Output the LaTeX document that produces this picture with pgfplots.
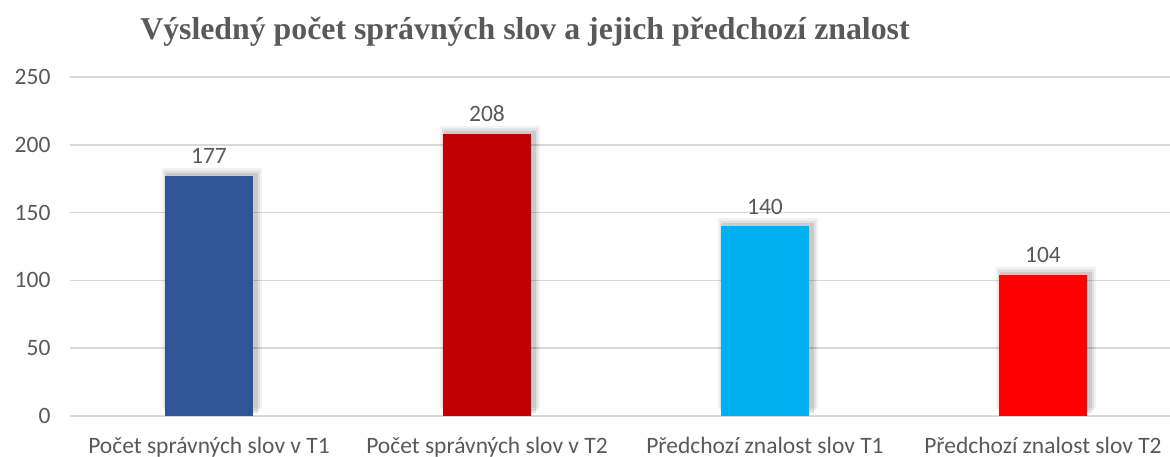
\documentclass[border=0pt]{standalone}
\usepackage{pgfplots}
\pgfplotsset{compat=1.18}
\usepackage{fontspec}
\setmainfont{Carlito}
\newfontfamily\titlefont{Liberation Serif}
\definecolor{txt}{HTML}{595959}
\definecolor{gridc}{HTML}{D9D9D9}
\definecolor{c1}{HTML}{2F5597}
\definecolor{c2}{HTML}{C00000}
\definecolor{c3}{HTML}{00B0F0}
\definecolor{c4}{HTML}{FF0000}
\pgfplotstableread{
x y
0 177
1 208
2 140
3 104
}\data
\begin{document}
\begin{tikzpicture}
\begin{axis}[
  scale only axis,
  width=1100bp, height=339bp,
  xmin=-0.5, xmax=3.457,
  ymin=0, ymax=250,
  ytick={0,50,100,150,200,250},
  xtick={0,1,2,3},
  xticklabels={Počet správných slov v T1,Počet správných slov v T2,Předchozí znalost slov T1,Předchozí znalost slov T2},
  ymajorgrids, grid style={gridc, line width=1.5bp},
  axis line style={draw=none},
  major tick length=0pt,
  tick label style={font=\fontsize{23.5bp}{26bp}\selectfont, text=txt},
  /pgf/number format/assume math mode=true,
  yticklabel style={xshift=-16bp},
  xticklabel style={anchor=base, yshift=-37bp},
  ybar, bar shift=0pt,
  clip=false,
  nlabel/.style={nodes near coords, every node near coord/.append style={font=\fontsize{23.5bp}{26bp}\selectfont, text=txt, anchor=base, yshift=12bp}},
]
\addplot[fill=black, fill opacity=0.05, draw=none, bar width=100bp, xshift=3bp, yshift=8bp] table {\data};
\addplot[fill=black, fill opacity=0.07, draw=none, bar width=96bp, xshift=3bp, yshift=5.5bp] table {\data};
\addplot[fill=black, fill opacity=0.10, draw=none, bar width=92bp, xshift=3bp, yshift=3bp] table {\data};
\addplot[fill=c1, draw=none, bar width=88bp, nlabel] coordinates {(0,177)};
\addplot[fill=c2, draw=none, bar width=88bp, nlabel] coordinates {(1,208)};
\addplot[fill=c3, draw=none, bar width=88bp, nlabel] coordinates {(2,140)};
\addplot[fill=c4, draw=none, bar width=88bp, nlabel] coordinates {(3,104)};
\node[font=\titlefont\bfseries\fontsize{31.8bp}{34bp}\selectfont, text=txt] at (rel axis cs:0.4136,1) [yshift=45bp] {Výsledný počet správných slov a jejich předchozí znalost};
\end{axis}
\pgfresetboundingbox
\path (-70bp,-41bp) rectangle (1100bp,416bp);
\end{tikzpicture}
\end{document}
